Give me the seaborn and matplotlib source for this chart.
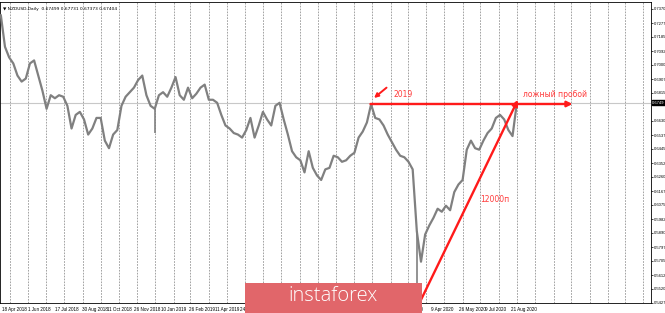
import matplotlib
matplotlib.use('Agg')
import matplotlib.pyplot as plt
from matplotlib.patches import Rectangle
import seaborn as sns
import pandas as pd

# ---------------- data ----------------
series_start = '2018-04-16'
weekly_close = [
    0.733, 0.712, 0.705, 0.701, 0.693, 0.689, 0.691, 0.701, 0.703, 0.693,
    0.683, 0.671, 0.680, 0.678, 0.680, 0.679, 0.673, 0.658, 0.667, 0.669,
    0.664, 0.654, 0.658, 0.665, 0.665, 0.650, 0.645, 0.654, 0.657, 0.673,
    0.679, 0.682, 0.685, 0.690, 0.693, 0.680, 0.673, 0.671, 0.680, 0.682,
    0.679, 0.685, 0.692, 0.680, 0.677, 0.685, 0.678, 0.681, 0.685, 0.687,
    0.677, 0.677, 0.675, 0.667, 0.660, 0.658, 0.655, 0.654, 0.652, 0.657,
    0.665, 0.652, 0.660, 0.669, 0.664, 0.660, 0.673, 0.675, 0.664, 0.654,
    0.643, 0.639, 0.637, 0.629, 0.643, 0.632, 0.627, 0.624, 0.631, 0.632,
    0.640, 0.639, 0.636, 0.637, 0.640, 0.642, 0.652, 0.656, 0.662, 0.674,
    0.665, 0.664, 0.660, 0.654, 0.649, 0.644, 0.640, 0.639, 0.636, 0.631,
    0.590, 0.570, 0.588, 0.594, 0.599, 0.605, 0.603, 0.607, 0.604, 0.616,
    0.621, 0.624, 0.644, 0.650, 0.645, 0.644, 0.650, 0.655, 0.658, 0.665,
    0.667, 0.664, 0.657, 0.653, 0.674,
]
spike_dates = ['2018-12-31', '2020-03-16']
spike_lows = [0.655, 0.550]

current_price = 0.6749
header_text = 'NZDUSD,Daily  0.67499 0.67731 0.67373 0.67404'

price_ticks = [0.5427, 0.5520, 0.5612, 0.5705, 0.5797, 0.5890, 0.5982, 0.6075,
               0.6167, 0.6260, 0.6352, 0.6445, 0.6537, 0.6630, 0.6815, 0.6907,
               0.7000, 0.7092, 0.7185, 0.7277, 0.7370]

date_labels = ['18 Apr 2018', '1 Jun 2018', '17 Jul 2018', '30 Aug 2018',
               '11 Oct 2018', '26 Nov 2018', '10 Jan 2019', '26 Feb 2019',
               '11 Apr 2019', '24 May 2019', '9 Jul 2019', '21 Aug 2019',
               '3 Oct 2019', '15 Nov 2019', '31 Dec 2019', '12 Feb 2020',
               '9 Apr 2020', '26 May 2020', '9 Jul 2020', '21 Aug 2020']

level_2019 = 0.6742
level_start, level_end = '2019-12-29', '2020-12-03'
trend_start = ('2020-03-22', 0.5440)
trend_end = ('2020-09-02', 0.6769)

# ---------------- figure ----------------
sns.set_theme(style='white')
plt.rcParams['font.family'] = ['DejaVu Sans']
small_font = ['Liberation Sans Narrow', 'Liberation Sans', 'DejaVu Sans']

fig = plt.figure(figsize=(6.65, 3.13), dpi=100)
ax = fig.add_axes([0.0, 1 - 303 / 313, 651 / 665, 301 / 313])
ax.set_facecolor('white')

dates = pd.date_range(series_start, periods=len(weekly_close), freq='7D')
df = pd.DataFrame({'date': dates, 'price': weekly_close})

# monthly dashed grid
for m in pd.date_range('2018-05-01', '2021-04-01', freq='MS'):
    ax.axvline(m, color='#8a8a8a', lw=0.55, ls=(0, (2.2, 1.6)), zorder=0)

ax.axhline(current_price, color='#c8c8c8', lw=0.8, zorder=1)

sns.lineplot(data=df, x='date', y='price', ax=ax, color='#808080', lw=1.6,
             zorder=3)
sd = pd.to_datetime(spike_dates)
closes_at = [df.loc[(df['date'] - d).abs().idxmin(), 'price'] for d in sd]
ax.vlines(sd, spike_lows, closes_at, color='#808080', lw=1.2, zorder=3)

ax.set_xlim(pd.Timestamp('2018-04-14 15:00'), pd.Timestamp('2021-04-14'))
ax.set_ylim(0.5427, 0.7416)

# axes styling
for s in ax.spines.values():
    s.set_color('#000000')
    s.set_linewidth(0.6)
ax.yaxis.tick_right()
ax.set_yticks(price_ticks)
ax.set_yticklabels([f'{v:.4f}' for v in price_ticks], family=small_font)
ax.set_xticks(pd.to_datetime(date_labels, format='%d %b %Y'))
ax.set_xticklabels(date_labels, ha='left', family=small_font)
ax.tick_params(axis='x', labelsize=3.3, length=2, width=0.5, pad=1, colors='#000000')
ax.tick_params(axis='y', labelsize=3.0, length=1.5, width=0.5, pad=0.6,
               colors='#000000', right=True, left=False)
ax.set_xlabel('')
ax.set_ylabel('')
ax.grid(False)

# current price tag
ax.text(1.002, current_price, f'{current_price:.4f}', transform=ax.get_yaxis_transform(),
        fontsize=3.0, color='white', va='center', ha='left', family=small_font,
        bbox=dict(boxstyle='square,pad=0.12', fc='black', ec='black'), clip_on=False)

# header
ax.text(0.004, 0.985, '\u25BC ' + header_text, transform=ax.transAxes,
        fontsize=3.2, color='black', va='top', ha='left')

# red annotations
red = '#ff1a1a'
ax.annotate('', xy=(pd.Timestamp(level_end), level_2019),
            xytext=(pd.Timestamp(level_start), level_2019),
            arrowprops=dict(arrowstyle='-|>', color=red, lw=1.7, mutation_scale=8,
                            shrinkA=0, shrinkB=0), zorder=5)
ax.annotate('', xy=(pd.Timestamp(trend_end[0]), trend_end[1]),
            xytext=(pd.Timestamp(trend_start[0]), trend_start[1]),
            arrowprops=dict(arrowstyle='-|>', color=red, lw=1.7, mutation_scale=8,
                            shrinkA=0, shrinkB=0), zorder=5)
ax.annotate('', xy=(pd.Timestamp('2020-01-04'), 0.6782),
            xytext=(pd.Timestamp('2020-01-25'), 0.6850),
            arrowprops=dict(arrowstyle='-|>', color=red, lw=1.4, mutation_scale=6,
                            shrinkA=0, shrinkB=0), zorder=5)
ax.text(pd.Timestamp('2020-02-22'), 0.6805, '2019', color='#ff3b3b', fontsize=5.5,
        ha='center', va='center', zorder=6)
ax.text(pd.Timestamp('2020-11-04'), 0.6805, 'ложный пробой', color='#ff3b3b',
        fontsize=5.5, ha='center', va='center', zorder=6)
ax.text(pd.Timestamp('2020-07-26'), 0.6114, '12000п', color='#ff3b3b', fontsize=5.5,
        ha='center', va='center', zorder=6)

# logo
fig.patches.append(Rectangle((245 / 665, 0), 177 / 665, 30 / 313,
                             transform=fig.transFigure, facecolor='#e1666a',
                             edgecolor='none', zorder=10))
fig.text(333 / 665, 1 - 296 / 313, 'instaforex', color='white', fontsize=14.5,
         family=['Open Sans', 'DejaVu Sans'], fontweight='light',
         ha='center', va='center', zorder=11)

fig.savefig('out.png', dpi=100, facecolor='white')
